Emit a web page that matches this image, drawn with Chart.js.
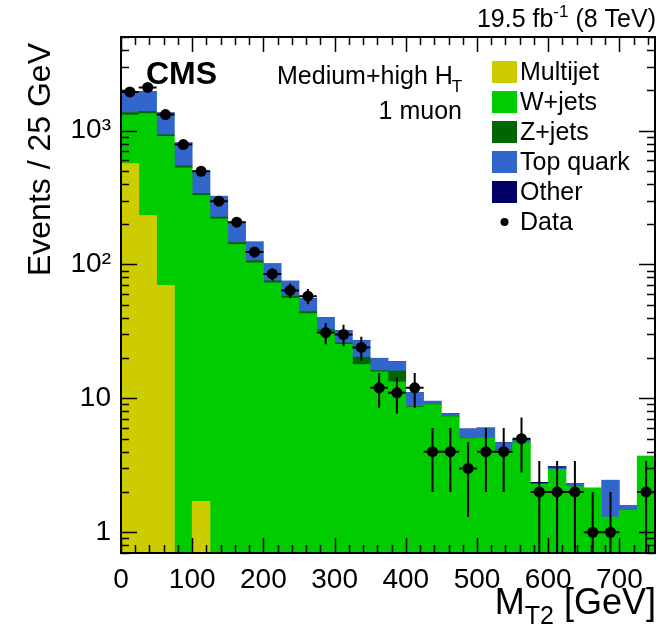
<!DOCTYPE html>
<html>
<head>
<meta charset="utf-8">
<script src="https://cdn.jsdelivr.net/npm/chart.js@4.4.1/dist/chart.umd.min.js"></script>
<style>
  html, body { margin: 0; padding: 0; background: #fff; }
  #wrap { width: 661px; height: 630px; }
</style>
</head>
<body>
<div id="wrap"><canvas id="c" width="661" height="630"></canvas></div>
<script>
const FONT = '"Liberation Sans", Arial, Helvetica, sans-serif';

// bins of 25 GeV, centres
const binCenters = [12.5, 37.5, 62.5, 87.5, 112.5, 137.5, 162.5, 187.5, 212.5, 237.5,
  262.5, 287.5, 312.5, 337.5, 362.5, 387.5, 412.5, 437.5, 462.5, 487.5,
  512.5, 537.5, 562.5, 587.5, 612.5, 637.5, 662.5, 687.5, 712.5, 737.5];
const binHalfWidth = 12.5;

const xTicks = [0, 100, 200, 300, 400, 500, 600, 700];
const yTicks = [1, 10, 100, 1000];
const yTickLabels = ['1', '10', '10²', '10³'];

// backgrounds (stacked, bottom to top)
const multijet = [567, 232, 70, 0, 1.7, 0, 0, 0, 0, 0, 0, 0, 0, 0, 0, 0, 0, 0, 0, 0, 0, 0, 0, 0, 0, 0, 0, 0, 0, 0];
const wjets = [739, 1108, 836, 527, 327, 219, 141, 103, 73, 56, 43, 31.8, 25.3, 17.9, 15.8, 13.3, 8.6, 9.0, 7.3, 5.0,
  5.1, 4.1, 4.67, 2.28, 2.95, 2.19, 2.15, 1.30, 1.46, 3.69];
const zjets = [56, 50, 25, 17, 10, 7, 5, 3.5, 2.5, 2, 1.5, 0.8, 0.7, 2.4, 0.3, 2.7, 0.1, 0.05, 0.05, 0.02,
  0.02, 0.02, 0.02, 0.01, 0.01, 0, 0, 0, 0, 0];
const topquark = [600, 572, 424, 265, 158, 97, 61, 40.5, 25.5, 17, 11, 7.4, 6, 6.7, 3.8, 2.8, 2.3, 0.45, 0.35, 0.88,
  0.88, 0.55, 0.21, 0.02, 0.07, 0.12, 0, 1.15, 0.13, 0.02];
const other = [3, 3, 2, 1.5, 1, 0.6, 0.4, 0.3, 0.2, 0.15, 0.1, 0.08, 0.06, 0.05, 0.04, 0.04, 0.03, 0.03, 0.03, 0.02,
  0.02, 0.02, 0.02, 0.05, 0.07, 0.01, 0, 0, 0, 0];

// observed data and its errors
const dataVals = [1945, 2100, 1316, 786, 497, 297, 207, 124, 85, 64, 58, 31, 30, 24, 12, 11, 12, 4, 4, 3,
  4, 4, 5, 2, 2, 2, 1, 1, null, 2];
const dataErr = [44, 46, 36, 28, 22, 17, 14, 11, 9.2, 8, 7.6, 5.6, 5.5, 4.9, 3.5, 3.3, 3.5, 2, 2, 1.7,
  2, 2, 2.2, 1.4, 1.4, 1.4, 1, 1, null, 1.4];

const bkgNames = ['Multijet', 'W+jets', 'Z+jets', 'Top quark', 'Other'];
const bkgColors = ['#cccc00', '#00cc00', '#006600', '#3366cc', '#000066'];
const bkgSeries = [multijet, wjets, zjets, topquark, other];

const datasets = bkgSeries.map((vals, i) => ({
  type: 'bar',
  label: bkgNames[i],
  data: vals.map((v, j) => ({ x: binCenters[j], y: v })),
  backgroundColor: bkgColors[i],
  borderWidth: 0,
  barPercentage: 1,
  categoryPercentage: 1,
  grouped: false,
  stack: 'bkg'
}));

const dataPoints = [];
for (let i = 0; i < binCenters.length; i++) {
  if (dataVals[i] !== null) dataPoints.push({ x: binCenters[i], y: dataVals[i], err: dataErr[i] });
}
datasets.push({
  type: 'scatter',
  label: 'Data',
  data: dataPoints,
  pointRadius: 5.5,
  pointHoverRadius: 5.5,
  backgroundColor: '#000',
  borderWidth: 0,
  order: -1
});

// error bars under the data dots
const errorBars = {
  id: 'errorBars',
  beforeDatasetDraw(chart, args) {
    if (chart.data.datasets[args.index].type !== 'scatter') return;
    const xs = chart.scales.x, ys = chart.scales.y, ca = chart.chartArea;
    const ctx = chart.ctx;
    ctx.save();
    ctx.strokeStyle = '#000';
    ctx.lineWidth = 2;
    ctx.beginPath();
    for (const p of dataPoints) {
      const px = xs.getPixelForValue(p.x);
      const py = ys.getPixelForValue(p.y);
      const lo = p.y - p.err;
      const yLo = lo <= ys.min ? ca.bottom : ys.getPixelForValue(lo);
      const yHi = Math.max(ca.top, ys.getPixelForValue(p.y + p.err));
      ctx.moveTo(px, yLo); ctx.lineTo(px, yHi);
      ctx.moveTo(xs.getPixelForValue(p.x - binHalfWidth), py);
      ctx.lineTo(xs.getPixelForValue(p.x + binHalfWidth), py);
    }
    ctx.stroke();
    ctx.restore();
  }
};

// ROOT style frame with inward ticks on all four sides
const frameTicks = {
  id: 'frameTicks',
  afterDatasetsDraw(chart) {
    const ctx = chart.ctx, ca = chart.chartArea;
    const xs = chart.scales.x, ys = chart.scales.y;
    ctx.save();
    ctx.strokeStyle = '#000';
    ctx.lineWidth = 1.5;
    ctx.beginPath();
    for (let v = 0; v <= 750; v += 20) {
      const px = Math.round(xs.getPixelForValue(v)) + 0.5;
      const len = v % 100 === 0 ? 15 : 8;
      ctx.moveTo(px, ca.bottom); ctx.lineTo(px, ca.bottom - len);
      ctx.moveTo(px, ca.top); ctx.lineTo(px, ca.top + len);
    }
    for (const d of [0.1, 1, 10, 100, 1000]) {
      for (let m = 1; m <= 9; m++) {
        const v = m * d;
        if (v < ys.min || v > ys.max) continue;
        const py = Math.round(ys.getPixelForValue(v)) + 0.5;
        const len = m === 1 ? 16 : 8;
        ctx.moveTo(ca.left, py); ctx.lineTo(ca.left + len, py);
        ctx.moveTo(ca.right, py); ctx.lineTo(ca.right - len, py);
      }
    }
    ctx.stroke();
    ctx.lineWidth = 2;
    ctx.strokeRect(ca.left, ca.top, ca.right - ca.left, ca.bottom - ca.top);
    ctx.restore();
  }
};

// texts, axis titles and legend
const annotations = {
  id: 'annotations',
  afterDraw(chart) {
    const ctx = chart.ctx;
    ctx.save();
    ctx.fillStyle = '#000';
    ctx.textBaseline = 'alphabetic';

    // luminosity label, right aligned
    const big = '25px ' + FONT, sup = '17px ' + FONT;
    ctx.font = big; const w1 = ctx.measureText('19.5 fb').width;
    ctx.font = sup; const w2 = ctx.measureText('-1').width;
    ctx.font = big; const w3 = ctx.measureText(' (8 TeV)').width;
    let x = 656 - (w1 + w2 + w3);
    ctx.textAlign = 'left';
    ctx.font = big; ctx.fillText('19.5 fb', x, 27); x += w1;
    ctx.font = sup; ctx.fillText('-1', x, 17); x += w2;
    ctx.font = big; ctx.fillText(' (8 TeV)', x, 27);

    ctx.font = 'bold 32px ' + FONT;
    ctx.fillText('CMS', 146, 84);

    ctx.font = '25px ' + FONT;
    ctx.fillText('Medium+high H', 277, 84);
    const wh = ctx.measureText('Medium+high H').width;
    ctx.font = '17px ' + FONT;
    ctx.fillText('T', 277 + wh - 1, 92);
    ctx.font = '25px ' + FONT;
    ctx.textAlign = 'right';
    ctx.fillText('1 muon', 462, 119);

    // x title
    const tBig = '36px ' + FONT, tSub = '25px ' + FONT;
    ctx.textAlign = 'left';
    ctx.font = tBig; const a = ctx.measureText('M').width;
    ctx.font = tSub; const b = ctx.measureText('T2').width;
    ctx.font = tBig; const c = ctx.measureText(' [GeV]').width;
    x = 656 - (a + b + c);
    ctx.font = tBig; ctx.fillText('M', x, 614); x += a;
    ctx.font = tSub; ctx.fillText('T2', x, 624); x += b;
    ctx.font = tBig; ctx.fillText(' [GeV]', x, 614);

    // y title
    ctx.save();
    ctx.translate(50, 43);
    ctx.rotate(-Math.PI / 2);
    ctx.textAlign = 'right';
    ctx.font = '32px ' + FONT;
    ctx.fillText('Events / 25 GeV', 0, 0);
    ctx.restore();

    // legend
    ctx.font = '25px ' + FONT;
    ctx.textAlign = 'left';
    ctx.textBaseline = 'middle';
    const rowY = [72, 102, 132, 162, 192, 222];
    chart.data.datasets.forEach((ds, i) => {
      const cy = rowY[i];
      if (ds.type === 'bar') {
        ctx.fillStyle = ds.backgroundColor;
        ctx.fillRect(492, cy - 11, 25, 22);
      } else {
        ctx.fillStyle = '#000';
        ctx.beginPath();
        ctx.arc(504.5, cy, 4, 0, Math.PI * 2);
        ctx.fill();
      }
      ctx.fillStyle = '#000';
      ctx.fillText(ds.label, 520, cy + 1);
    });
    ctx.restore();
  }
};

new Chart(document.getElementById('c'), {
  type: 'bar',
  data: { datasets },
  options: {
    responsive: false,
    animation: false,
    devicePixelRatio: 1,
    layout: { padding: { left: 0, right: 6, top: 37, bottom: 0 } },
    plugins: { legend: { display: false }, tooltip: { enabled: false } },
    scales: {
      x: {
        type: 'linear',
        position: 'bottom',
        offset: false,
        min: 0,
        max: 750,
        grid: { display: false, drawTicks: false, offset: false },
        border: { display: false },
        afterBuildTicks: (s) => { s.ticks = xTicks.map(v => ({ value: v })); },
        afterFit: (s) => { s.height = 77; },
        ticks: {
          autoSkip: false,
          maxRotation: 0,
          padding: 10,
          color: '#000',
          font: { family: FONT, size: 28 },
          callback: (v) => String(v)
        }
      },
      y: {
        type: 'logarithmic',
        stacked: true,
        min: 0.7,
        max: 5000,
        grid: { display: false, drawTicks: false },
        border: { display: false },
        afterBuildTicks: (s) => { s.ticks = yTicks.map(v => ({ value: v })); },
        afterFit: (s) => { s.width = 121; },
        ticks: {
          autoSkip: false,
          padding: 10,
          color: '#000',
          font: { family: FONT, size: 28 },
          callback: (v) => yTickLabels[yTicks.indexOf(v)] ?? ''
        }
      }
    }
  },
  plugins: [errorBars, frameTicks, annotations]
});
</script>
</body>
</html>
